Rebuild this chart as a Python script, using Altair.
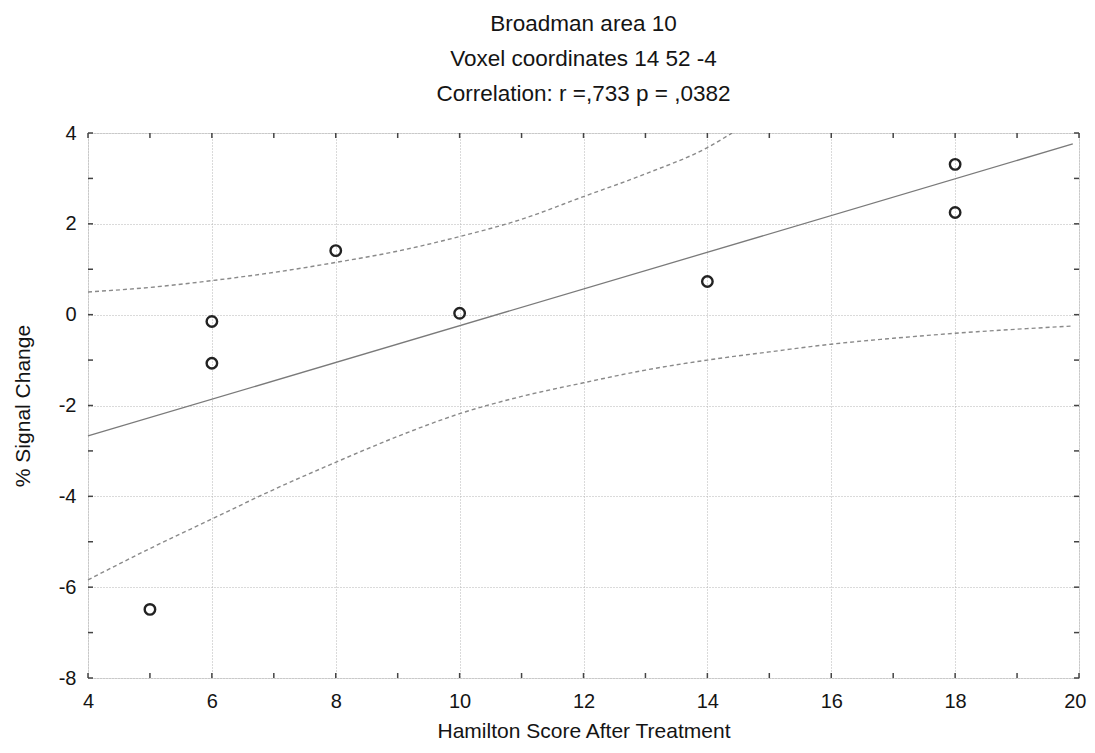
import altair as alt
import pandas as pd

# Observed points
hamilton = [5, 6, 6, 8, 10, 14, 18, 18]
signal = [-6.49, -0.15, -1.07, 1.41, 0.03, 0.73, 3.31, 2.25]

# Regression line (read endpoints)
fit_x = [4, 19.9]
fit_y = [-2.67, 3.76]

# 95% confidence band
upper_x = [4, 5, 6, 7, 8, 9, 10, 11, 12, 13, 14, 14.4]
upper_y = [0.50, 0.60, 0.75, 0.93, 1.15, 1.40, 1.72, 2.10, 2.60, 3.10, 3.68, 4.0]
lower_x = [4, 5, 6, 7, 8, 9, 10, 11, 12, 13, 14, 15, 16, 17, 18, 19, 19.9]
lower_y = [-5.84, -5.15, -4.50, -3.85, -3.25, -2.68, -2.18, -1.80, -1.50, -1.22,
           -1.00, -0.82, -0.65, -0.52, -0.41, -0.32, -0.25]

x_major = [4, 6, 8, 10, 12, 14, 16, 18, 20]
y_major = [-8, -6, -4, -2, 0, 2, 4]
x_minor = list(range(4, 21))
y_minor = list(range(-8, 5))

W, H = 991, 545
FONT = "Liberation Sans"
TXT = "#141414"

xs = alt.Scale(domain=[4, 20], nice=False, zero=False)
ys = alt.Scale(domain=[-8, 4], nice=False, zero=False)

pts = pd.DataFrame({"x": hamilton, "y": signal})
fit = pd.DataFrame({"x": fit_x, "y": fit_y})
up = pd.DataFrame({"x": upper_x, "y": upper_y})
lo = pd.DataFrame({"x": lower_x, "y": lower_y})
xt = pd.DataFrame({"x": x_minor})
yt = pd.DataFrame({"y": y_minor})

xaxis = alt.Axis(values=x_major, ticks=False, domain=False, grid=True,
                 gridColor="#b5b5b5", gridDash=[1, 2], gridWidth=1,
                 labelExpr="'' + datum.value",
                 labelAlign=alt.ConditionalAxisLabelAlign(
                     condition={"test": "datum.value == 20", "value": "right"},
                     value="center"),
                 labelOffset=alt.ConditionalAxisNumber(
                     condition={"test": "datum.value == 20", "value": 7},
                     value=0),
                 labelFont=FONT, labelFontSize=20, labelColor=TXT, labelPadding=13,
                 title="Hamilton Score After Treatment", titleFont=FONT,
                 titleFontSize=21, titleFontWeight="normal", titleColor=TXT,
                 titleY=53, titleBaseline="middle", labelFlush=False)
yaxis = alt.Axis(values=y_major, ticks=False, domain=False, grid=True,
                 gridColor="#b5b5b5", gridDash=[1, 2], gridWidth=1,
                 labelExpr="datum.value < 0 ? '-' + abs(datum.value) : '' + datum.value",
                 labelFont=FONT, labelFontSize=20, labelColor=TXT, labelPadding=12,
                 title="% Signal Change", titleFont=FONT, titleFontSize=21,
                 titleFontWeight="normal", titleColor=TXT, titleAngle=-90,
                 titleX=-65, titleY=H / 2, titleBaseline="middle", labelFlush=False)

base_pts = alt.Chart(pts).mark_point(
    shape="circle", filled=False, size=110, stroke="#222222", strokeWidth=2.4, opacity=1
).encode(x=alt.X("x:Q", scale=xs, axis=xaxis), y=alt.Y("y:Q", scale=ys, axis=yaxis))

fit_line = alt.Chart(fit).mark_line(color="#7a7a7a", strokeWidth=1.3).encode(
    x=alt.X("x:Q", scale=xs), y=alt.Y("y:Q", scale=ys))

up_line = alt.Chart(up).mark_line(color="#8a8a8a", strokeWidth=1.4,
                                  strokeDash=[4, 3], interpolate="monotone", clip=True).encode(
    x=alt.X("x:Q", scale=xs), y=alt.Y("y:Q", scale=ys))
lo_line = alt.Chart(lo).mark_line(color="#8a8a8a", strokeWidth=1.4,
                                  strokeDash=[4, 3], interpolate="monotone").encode(
    x=alt.X("x:Q", scale=xs), y=alt.Y("y:Q", scale=ys))

tick_col = "#444444"
tb = alt.Chart(xt).mark_rule(color=tick_col, strokeWidth=1.5).encode(
    x=alt.X("x:Q", scale=xs), y=alt.value(H), y2=alt.value(H - 5))
tt = alt.Chart(xt).mark_rule(color=tick_col, strokeWidth=1.5).encode(
    x=alt.X("x:Q", scale=xs), y=alt.value(0), y2=alt.value(5))
tl = alt.Chart(yt).mark_rule(color=tick_col, strokeWidth=1.5).encode(
    y=alt.Y("y:Q", scale=ys), x=alt.value(0), x2=alt.value(5))
tr = alt.Chart(yt).mark_rule(color=tick_col, strokeWidth=1.5).encode(
    y=alt.Y("y:Q", scale=ys), x=alt.value(W), x2=alt.value(W - 5))

chart = alt.layer(base_pts, fit_line, up_line, lo_line, tb, tt, tl, tr).properties(
    width=W, height=H,
    title=alt.TitleParams(
        text=["Broadman area 10", "Voxel coordinates 14 52 -4",
              "Correlation: r =,733 p = ,0382"],
        font=FONT, fontSize=22.5, fontWeight="normal", color=TXT,
        lineHeight=35, anchor="middle", offset=18),
    autosize=alt.AutoSizeParams(type="none"),
    padding={"left": 80, "top": 125, "right": 8, "bottom": 70},
).configure_view(stroke="#444444", strokeWidth=1.8).configure(background="white")

chart.save("out.html", embed_options={"renderer": "svg", "actions": False})
